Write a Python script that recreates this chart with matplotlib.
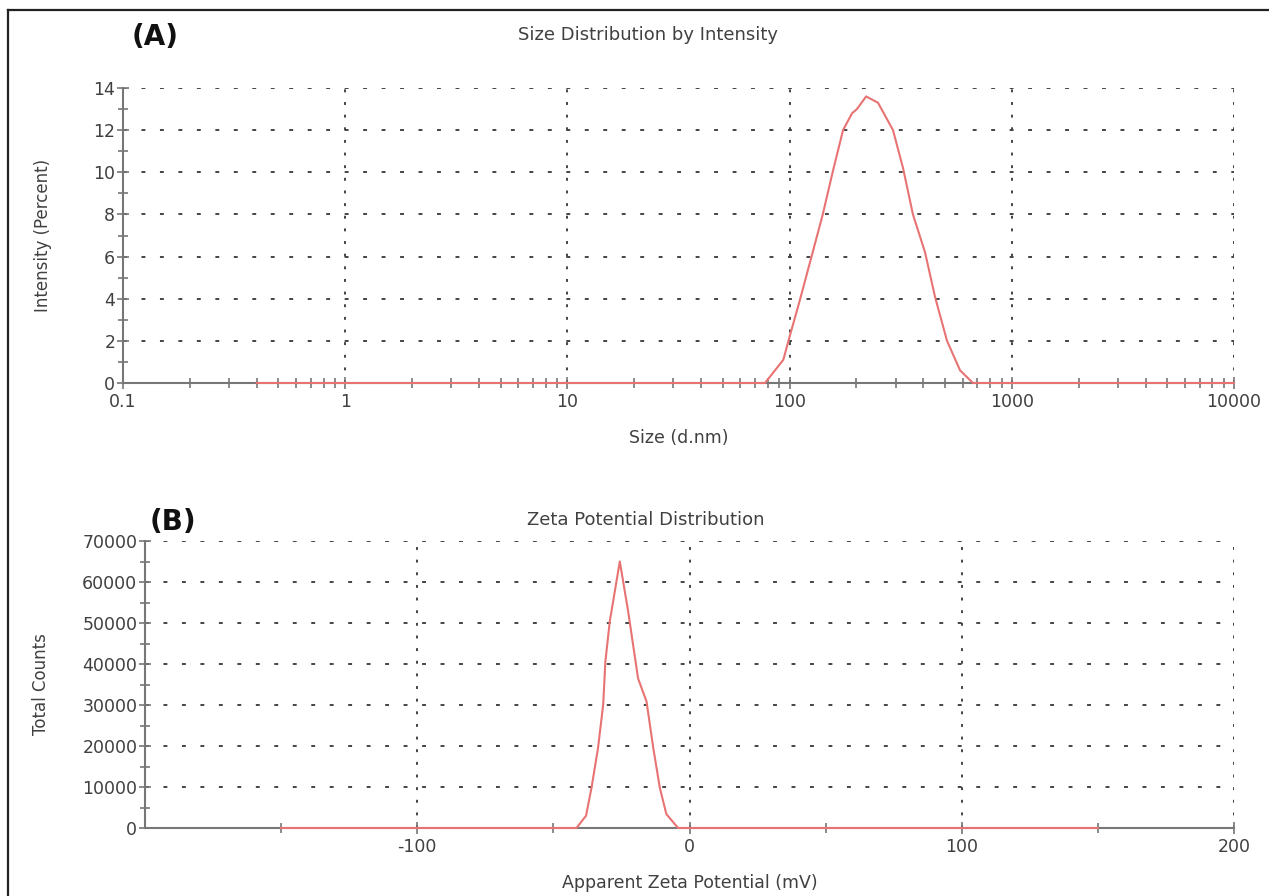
import matplotlib.pyplot as plt
import numpy as np
from matplotlib.ticker import MultipleLocator, LogLocator, FixedLocator, NullFormatter
from matplotlib.lines import Line2D

plt.rcParams['font.family'] = ['DejaVu Sans']
plt.rcParams['axes.unicode_minus'] = False

# (A) size distribution by intensity
size_nm = [0.4, 77.5, 93.7, 100, 111, 127, 141, 157, 174, 191, 201, 221, 250,
           292, 324, 359, 407, 451, 511, 585, 669, 10000]
intensity = [0, 0, 1.1, 2.2, 3.9, 6.2, 8.0, 10.1, 12.0, 12.8, 13.0, 13.6, 13.3,
             12.0, 10.2, 8.0, 6.2, 4.1, 2.0, 0.6, 0, 0]

# (B) zeta potential distribution
zeta_mv = [-150, -41.5, -38, -36, -33.6, -31.7, -30.9, -29.3, -25.6, -22.5,
           -18.9, -15.8, -13.3, -10.9, -8.5, -4.2, 150]
counts = [0, 0, 3000, 9800, 19500, 30100, 40600, 50300, 65000, 52700,
          36500, 30900, 19500, 9800, 3400, 0, 0]

line_col = '#e87373'
axis_col = '#777777'
text_col = '#404040'
grid_col = '#444444'

fig = plt.figure(figsize=(12.69, 8.96), dpi=100)

# outer frame (left and top edges)
fig.add_artist(Line2D([8 / 1269, 8 / 1269], [0, 1 - 10 / 896], color='#222222', lw=1.6))
fig.add_artist(Line2D([8 / 1269, 1], [1 - 10 / 896, 1 - 10 / 896], color='#222222', lw=1.6))


def style_axes(ax):
    for s in ['top', 'right']:
        ax.spines[s].set_visible(False)
    for s in ['left', 'bottom']:
        ax.spines[s].set_color(axis_col)
        ax.spines[s].set_linewidth(1.5)
    ax.tick_params(which='both', direction='inout', colors=axis_col, labelcolor=text_col,
                   labelsize=12.5, width=1.2)
    ax.tick_params(which='major', length=9)
    ax.tick_params(which='minor', length=7)
    ax.tick_params(axis='x', pad=3)
    ax.tick_params(axis='y', pad=1)
    ax.yaxis.grid(True, which='major', color=grid_col, linestyle=(0, (2, 7.5)), linewidth=1.4)
    ax.xaxis.grid(True, which='major', color=grid_col, linestyle=(0, (1.5, 5)), linewidth=1.4)


# Panel A
axA = fig.add_axes([123 / 1269, 1 - 383 / 896, 1111 / 1269, 295 / 896])
axA.plot(size_nm, intensity, color=line_col, lw=1.5, zorder=3, clip_on=False)
axA.set_xscale('log')
axA.set_xlim(0.1, 10000)
axA.set_ylim(0, 14)
axA.xaxis.set_major_locator(FixedLocator([0.1, 1, 10, 100, 1000, 10000]))
axA.xaxis.set_minor_locator(LogLocator(base=10, subs=np.arange(2, 10)))
axA.xaxis.set_minor_formatter(NullFormatter())
axA.set_xticklabels(['0.1', '1', '10', '100', '1000', '10000'])
axA.yaxis.set_major_locator(MultipleLocator(2))
axA.yaxis.set_minor_locator(MultipleLocator(1))
style_axes(axA)
axA.set_xlabel('Size (d.nm)', fontsize=12.5, color=text_col)
axA.set_ylabel('Intensity (Percent)', fontsize=12, color=text_col)
axA.xaxis.set_label_coords(0.5, -0.155)
axA.yaxis.set_label_coords(-0.064, 0.5)

# Panel B
axB = fig.add_axes([145 / 1269, 1 - 828 / 896, 1089 / 1269, 287 / 896])
axB.plot(zeta_mv, counts, color=line_col, lw=1.5, zorder=3, clip_on=False)
axB.set_xlim(-200, 200)
axB.set_ylim(0, 70000)
axB.xaxis.set_major_locator(FixedLocator([-100, 0, 100, 200]))
axB.xaxis.set_minor_locator(FixedLocator([-150, -50, 50, 150]))
axB.yaxis.set_major_locator(MultipleLocator(10000))
axB.yaxis.set_minor_locator(MultipleLocator(5000))
style_axes(axB)
axB.set_xlabel('Apparent Zeta Potential (mV)', fontsize=12.5, color=text_col)
axB.set_ylabel('Total Counts', fontsize=12, color=text_col)
axB.xaxis.set_label_coords(0.5, -0.16)
axB.yaxis.set_label_coords(-0.087, 0.5)

# titles and panel labels
fig.text(648 / 1269, 1 - 35 / 896, 'Size Distribution by Intensity', ha='center', va='center',
         fontsize=13, color=text_col)
fig.text(132 / 1269, 1 - 37 / 896, '(A)', ha='left', va='center', fontsize=20,
         fontweight='bold', color='#111111')
fig.text(646 / 1269, 1 - 520 / 896, 'Zeta Potential Distribution', ha='center', va='center',
         fontsize=13, color=text_col)
fig.text(150 / 1269, 1 - 522 / 896, '(B)', ha='left', va='center', fontsize=20,
         fontweight='bold', color='#111111')

fig.savefig('out.png', dpi=100)
